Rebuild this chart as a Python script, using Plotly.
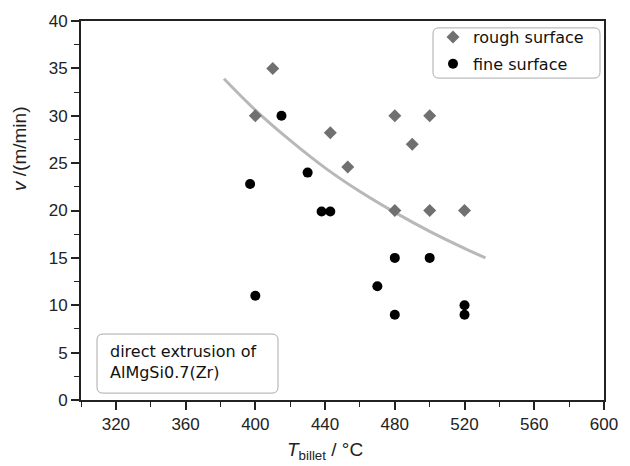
import plotly.graph_objects as go

# data
rough_T = [410, 400, 443, 453, 480, 500, 490, 480, 500, 520]
rough_v = [35.0, 30.0, 28.2, 24.6, 30.0, 30.0, 27.0, 20.0, 20.0, 20.0]

fine_T = [415, 397, 430, 438, 443, 400, 480, 500, 470, 480, 520, 520]
fine_v = [30.0, 22.8, 24.0, 19.9, 19.9, 11.0, 15.0, 15.0, 12.0, 9.0, 10.0, 9.0]

trend_T = [382, 400, 420, 440, 460, 480, 500, 520, 532]
trend_v = [33.9, 30.6, 27.4, 24.5, 22.0, 19.8, 17.8, 16.0, 15.0]

x_ticks = [320, 360, 400, 440, 480, 520, 560, 600]
y_ticks = [0, 5, 10, 15, 20, 25, 30, 35, 40]

W, H = 630, 466
L, R, T, B = 81, 26, 15, 66
PW, PH = W - L - R, H - T - B


def px(xp):
    return (xp - L) / PW


def py(yp):
    return (H - B - yp) / PH


def rrect(x0, y0, x1, y1, r=6):
    # rounded rectangle in paper coords, given pixel corners (top-left, bottom-right)
    rx, ry = r / PW, r / PH
    a, b = px(x0), px(x1)
    top, bot = py(y0), py(y1)
    return (f"M {a+rx},{top} L {b-rx},{top} Q {b},{top} {b},{top-ry} "
            f"L {b},{bot+ry} Q {b},{bot} {b-rx},{bot} L {a+rx},{bot} "
            f"Q {a},{bot} {a},{bot+ry} L {a},{top-ry} Q {a},{top} {a+rx},{top} Z")


fig = go.Figure()
fig.add_trace(go.Scatter(x=trend_T, y=trend_v, mode="lines", line=dict(color="#b8b8b8", width=3, shape="spline"),
                         showlegend=False, hoverinfo="skip"))
fig.add_trace(go.Scatter(x=rough_T, y=rough_v, mode="markers", name="rough surface",
                         marker=dict(symbol="diamond", size=10, color="#707070"), legendgroup="a"))
fig.add_trace(go.Scatter(x=fine_T, y=fine_v, mode="markers", name="fine surface",
                         marker=dict(symbol="circle", size=10, color="#000000"), legendgroup="b"))

fig.update_layout(
    width=W, height=H,
    margin=dict(l=L, r=R, t=T, b=B),
    paper_bgcolor="white", plot_bgcolor="white",
    font=dict(family="Liberation Sans, Arial", size=17, color="#222"),
    legend=dict(x=px(433), y=py(14), xanchor="left", yanchor="top",
                bgcolor="rgba(0,0,0,0)", borderwidth=0,
                font=dict(family="DejaVu Sans", size=16, color="#111"),
                tracegroupgap=3, traceorder="grouped"),
    xaxis=dict(range=[300, 600], tickvals=x_ticks, ticks="outside", ticklen=8, tickwidth=1.5,
               tickcolor="#222", showline=True, linecolor="#222", linewidth=2, mirror=True,
               showgrid=False, zeroline=False,
               minor=dict(dtick=20, tick0=300, ticks="outside", ticklen=5, tickwidth=1.2, tickcolor="#222", showgrid=False)),
    yaxis=dict(range=[0, 40], tickvals=y_ticks, ticks="outside", ticklen=8, tickwidth=1.5,
               tickcolor="#222", showline=True, linecolor="#222", linewidth=2, mirror=True,
               showgrid=False, zeroline=False,
               minor=dict(dtick=2.5, tick0=0, ticks="outside", ticklen=5, tickwidth=1.2, tickcolor="#222", showgrid=False)),
    shapes=[
        dict(type="path", xref="paper", yref="paper", path=rrect(433, 22, 600, 73),
             line=dict(color="#aaaaaa", width=1), fillcolor="rgba(255,255,255,0)", layer="below"),
        dict(type="path", xref="paper", yref="paper", path=rrect(97, 333, 278, 393),
             line=dict(color="#aaaaaa", width=1), fillcolor="white", layer="above"),
    ],
    annotations=[
        dict(xref="paper", yref="paper", x=px(108), y=py(361), xanchor="left", yanchor="middle",
             text="direct extrusion of<br>AlMgSi0.7(Zr)", showarrow=False, align="left",
             font=dict(family="DejaVu Sans", size=16, color="#111")),
        dict(xref="paper", yref="paper", x=px(20), y=py(145), xanchor="center", yanchor="middle",
             text="<i>v</i> /(m/min)", textangle=-90, showarrow=False,
             font=dict(family="Liberation Sans, Arial", size=19, color="#222")),
        dict(xref="paper", yref="paper", x=px(325), y=py(452), xanchor="center", yanchor="middle",
             text="<i>T</i><sub>billet</sub> / °C", showarrow=False,
             font=dict(family="Liberation Sans, Arial", size=19, color="#222")),
    ],
)

fig.write_html("out.html")
